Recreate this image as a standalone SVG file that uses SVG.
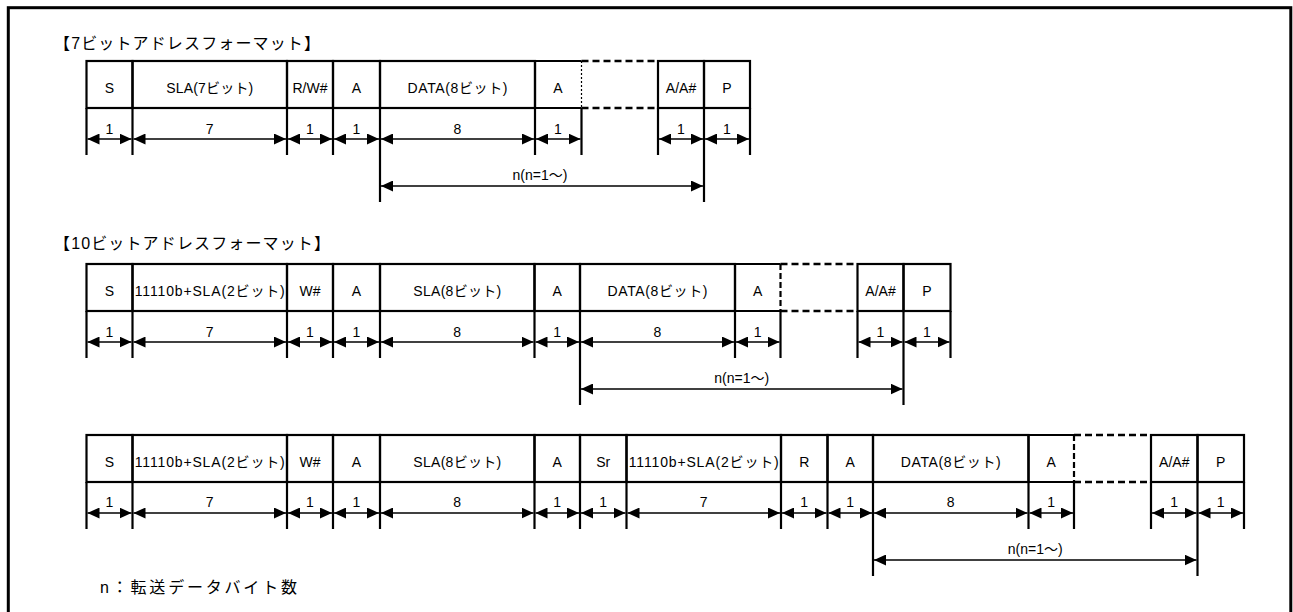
<svg xmlns="http://www.w3.org/2000/svg" width="1293" height="612" viewBox="0 0 1293 612">
<style>
.c{fill:none;stroke:#000;stroke-width:2.2}
.ds{fill:none;stroke:#000;stroke-width:2.5;stroke-dasharray:7 4}
.dl{fill:none;stroke:#000;stroke-width:1.2;stroke-dasharray:2 2}
.dl2{fill:none;stroke:#000;stroke-width:2.2;stroke-dasharray:6 3}
.tk{stroke:#000;stroke-width:2.2;fill:none}
.dim{stroke:#000;stroke-width:1.3;fill:none;marker-start:url(#ah);marker-end:url(#ah)}
text{font-family:"Liberation Sans","Noto Sans CJK JP",sans-serif;fill:#000}
.t{font-size:14px;text-anchor:middle}
.n{font-size:14px;text-anchor:middle}
.h{font-size:16px}
</style>
<defs>
<marker id="ah" viewBox="0 0 12 11" markerWidth="12" markerHeight="11" refX="12" refY="5.5" orient="auto-start-reverse" markerUnits="userSpaceOnUse"><path d="M0,0L12,5.5L0,11z" fill="#000"/></marker>
</defs>
<rect x="8.3" y="7.7" width="1282.5" height="640" fill="none" stroke="#000" stroke-width="3"/>
<text id="title1" class="h" x="54" y="49" textLength="266" lengthAdjust="spacing">【7ビットアドレスフォーマット】</text>
<text id="title2" class="h" x="54" y="249" textLength="276" lengthAdjust="spacing">【10ビットアドレスフォーマット】</text>
<text id="note" class="h" x="100" y="593" textLength="197" lengthAdjust="spacing">n：転送データバイト数</text>

<!-- Row 1 -->
<g id="r1-S"><rect class="c" x="86.5" y="61" width="46" height="47"/><text class="t" x="109.5" y="93">S</text></g>
<g id="r1-SLA"><rect class="c" x="132.5" y="61" width="154.5" height="47"/><text class="t" x="209.75" y="93" textLength="87" lengthAdjust="spacing">SLA(7ビット)</text></g>
<g id="r1-RW"><rect class="c" x="287" y="61" width="46" height="47"/><text class="t" x="310" y="93">R/W#</text></g>
<g id="r1-A1"><rect class="c" x="333" y="61" width="47" height="47"/><text class="t" x="356.5" y="93">A</text></g>
<g id="r1-DATA"><rect class="c" x="380" y="61" width="155" height="47"/><text class="t" x="457.5" y="93" textLength="100" lengthAdjust="spacing">DATA(8ビット)</text></g>
<g id="r1-A2"><path class="c" d="M581.5,61H535V108H581.5"/><text class="t" x="558" y="93">A</text></g>
<g id="r1-gap"><path class="ds" d="M581.5,61H658M581.5,108H658"/><path class="dl" d="M581.5,61V108"/></g>
<g id="r1-AA"><rect class="c" x="658" y="61" width="46" height="47"/><text class="t" x="681" y="93">A/A#</text></g>
<g id="r1-P"><rect class="c" x="704" y="61" width="46" height="47"/><text class="t" x="727" y="93">P</text></g>

<!-- Row 2 -->
<g id="r2-S"><rect class="c" x="86.5" y="264" width="46" height="47"/><text class="t" x="109.5" y="296">S</text></g>
<g id="r2-SLA2"><rect class="c" x="132.5" y="264" width="154.5" height="47"/><text class="t" x="209.75" y="296" textLength="150" lengthAdjust="spacing">11110b+SLA(2ビット)</text></g>
<g id="r2-W"><rect class="c" x="287" y="264" width="46" height="47"/><text class="t" x="310" y="296">W#</text></g>
<g id="r2-A1"><rect class="c" x="333" y="264" width="47" height="47"/><text class="t" x="356.5" y="296">A</text></g>
<g id="r2-SLA8"><rect class="c" x="380" y="264" width="154.5" height="47"/><text class="t" x="457.25" y="296" textLength="88" lengthAdjust="spacing">SLA(8ビット)</text></g>
<g id="r2-A2"><rect class="c" x="534.5" y="264" width="45.5" height="47"/><text class="t" x="557.25" y="296">A</text></g>
<g id="r2-DATA"><rect class="c" x="580" y="264" width="155" height="47"/><text class="t" x="657.5" y="296" textLength="100" lengthAdjust="spacing">DATA(8ビット)</text></g>
<g id="r2-A3"><path class="c" d="M780.5,264H735V311H780.5"/><text class="t" x="757.75" y="296">A</text></g>
<g id="r2-gap"><path class="ds" d="M780.5,264H857.5M780.5,311H857.5"/><path class="dl2" d="M780.5,264V311"/></g>
<g id="r2-AA"><rect class="c" x="857.5" y="264" width="46" height="47"/><text class="t" x="880.5" y="296">A/A#</text></g>
<g id="r2-P"><rect class="c" x="903.5" y="264" width="47" height="47"/><text class="t" x="927" y="296">P</text></g>

<!-- Row 3 -->
<g id="r3-S"><rect class="c" x="86.5" y="435" width="46" height="47"/><text class="t" x="109.5" y="467">S</text></g>
<g id="r3-SLA2"><rect class="c" x="132.5" y="435" width="154.5" height="47"/><text class="t" x="209.75" y="467" textLength="150" lengthAdjust="spacing">11110b+SLA(2ビット)</text></g>
<g id="r3-W"><rect class="c" x="287" y="435" width="46" height="47"/><text class="t" x="310" y="467">W#</text></g>
<g id="r3-A1"><rect class="c" x="333" y="435" width="47" height="47"/><text class="t" x="356.5" y="467">A</text></g>
<g id="r3-SLA8"><rect class="c" x="380" y="435" width="154.5" height="47"/><text class="t" x="457.25" y="467" textLength="88" lengthAdjust="spacing">SLA(8ビット)</text></g>
<g id="r3-A2"><rect class="c" x="534.5" y="435" width="45.5" height="47"/><text class="t" x="557.25" y="467">A</text></g>
<g id="r3-Sr"><rect class="c" x="580" y="435" width="46.5" height="47"/><text class="t" x="603.25" y="467">Sr</text></g>
<g id="r3-SLA2b"><rect class="c" x="626.5" y="435" width="154.5" height="47"/><text class="t" x="703.75" y="467" textLength="150" lengthAdjust="spacing">11110b+SLA(2ビット)</text></g>
<g id="r3-R"><rect class="c" x="781" y="435" width="46.5" height="47"/><text class="t" x="804.25" y="467">R</text></g>
<g id="r3-A3"><rect class="c" x="827.5" y="435" width="45.5" height="47"/><text class="t" x="850.25" y="467">A</text></g>
<g id="r3-DATA"><rect class="c" x="873" y="435" width="155.5" height="47"/><text class="t" x="950.75" y="467" textLength="100" lengthAdjust="spacing">DATA(8ビット)</text></g>
<g id="r3-A4"><path class="c" d="M1074,435H1028.5V482H1074"/><text class="t" x="1051.25" y="467">A</text></g>
<g id="r3-gap"><path class="ds" d="M1074,435H1151M1074,482H1151"/><path class="dl2" d="M1074,435V482"/></g>
<g id="r3-AA"><rect class="c" x="1151" y="435" width="46.5" height="47"/><text class="t" x="1174.25" y="467">A/A#</text></g>
<g id="r3-P"><rect class="c" x="1197.5" y="435" width="46.5" height="47"/><text class="t" x="1220.75" y="467">P</text></g>

<g id="connectors">
<!-- Row 1 ticks -->
<path class="tk" d="M86.5,108V155M132.5,108V155M287,108V155M333,108V155M380,108V202M535,108V155M581.5,108V155M658,108V155M704,108V202M750,108V155"/>
<line class="dim" x1="87.5" y1="139" x2="131.5" y2="139"/>
<line class="dim" x1="133.5" y1="139" x2="286" y2="139"/>
<line class="dim" x1="288" y1="139" x2="332" y2="139"/>
<line class="dim" x1="334" y1="139" x2="379" y2="139"/>
<line class="dim" x1="381" y1="139" x2="534" y2="139"/>
<line class="dim" x1="536" y1="139" x2="580.5" y2="139"/>
<line class="dim" x1="659" y1="139" x2="703" y2="139"/>
<line class="dim" x1="705" y1="139" x2="749" y2="139"/>
<line class="dim" x1="381" y1="186" x2="703" y2="186"/>
<text class="n" x="109.5" y="134">1</text>
<text class="n" x="209.75" y="134">7</text>
<text class="n" x="310" y="134">1</text>
<text class="n" x="356.5" y="134">1</text>
<text class="n" x="457.5" y="134">8</text>
<text class="n" x="558" y="134">1</text>
<text class="n" x="681" y="134">1</text>
<text class="n" x="727" y="134">1</text>
<text class="n" x="540" y="180">n(n=1～)</text>

<!-- Row 2 ticks -->
<path class="tk" d="M86.5,311V358M132.5,311V358M287,311V358M333,311V358M380,311V358M534.5,311V358M580,311V405M735,311V358M780.5,311V358M857.5,311V358M903.5,311V405M950.5,311V358"/>
<line class="dim" x1="87.5" y1="342" x2="131.5" y2="342"/>
<line class="dim" x1="133.5" y1="342" x2="286" y2="342"/>
<line class="dim" x1="288" y1="342" x2="332" y2="342"/>
<line class="dim" x1="334" y1="342" x2="379" y2="342"/>
<line class="dim" x1="381" y1="342" x2="533.5" y2="342"/>
<line class="dim" x1="535.5" y1="342" x2="579" y2="342"/>
<line class="dim" x1="581" y1="342" x2="734" y2="342"/>
<line class="dim" x1="736" y1="342" x2="779.5" y2="342"/>
<line class="dim" x1="858.5" y1="342" x2="902.5" y2="342"/>
<line class="dim" x1="904.5" y1="342" x2="949.5" y2="342"/>
<line class="dim" x1="581" y1="389" x2="902.5" y2="389"/>
<text class="n" x="109.5" y="337">1</text>
<text class="n" x="209.75" y="337">7</text>
<text class="n" x="310" y="337">1</text>
<text class="n" x="356.5" y="337">1</text>
<text class="n" x="457.25" y="337">8</text>
<text class="n" x="557.25" y="337">1</text>
<text class="n" x="657.5" y="337">8</text>
<text class="n" x="757.75" y="337">1</text>
<text class="n" x="880.5" y="337">1</text>
<text class="n" x="927" y="337">1</text>
<text class="n" x="741.75" y="383">n(n=1～)</text>

<!-- Row 3 ticks -->
<path class="tk" d="M86.5,482V529M132.5,482V529M287,482V529M333,482V529M380,482V529M534.5,482V529M580,482V529M626.5,482V529M781,482V529M827.5,482V529M873,482V576M1028.5,482V529M1074,482V529M1151,482V529M1197.5,482V576M1244,482V529"/>
<line class="dim" x1="87.5" y1="513" x2="131.5" y2="513"/>
<line class="dim" x1="133.5" y1="513" x2="286" y2="513"/>
<line class="dim" x1="288" y1="513" x2="332" y2="513"/>
<line class="dim" x1="334" y1="513" x2="379" y2="513"/>
<line class="dim" x1="381" y1="513" x2="533.5" y2="513"/>
<line class="dim" x1="535.5" y1="513" x2="579" y2="513"/>
<line class="dim" x1="581" y1="513" x2="625.5" y2="513"/>
<line class="dim" x1="627.5" y1="513" x2="780" y2="513"/>
<line class="dim" x1="782" y1="513" x2="826.5" y2="513"/>
<line class="dim" x1="828.5" y1="513" x2="872" y2="513"/>
<line class="dim" x1="874" y1="513" x2="1027.5" y2="513"/>
<line class="dim" x1="1029.5" y1="513" x2="1073" y2="513"/>
<line class="dim" x1="1152" y1="513" x2="1196.5" y2="513"/>
<line class="dim" x1="1198.5" y1="513" x2="1243" y2="513"/>
<line class="dim" x1="874" y1="560" x2="1196.5" y2="560"/>
<text class="n" x="109.5" y="507">1</text>
<text class="n" x="209.75" y="507">7</text>
<text class="n" x="310" y="507">1</text>
<text class="n" x="356.5" y="507">1</text>
<text class="n" x="457.25" y="507">8</text>
<text class="n" x="557.25" y="507">1</text>
<text class="n" x="603.25" y="507">1</text>
<text class="n" x="703.75" y="507">7</text>
<text class="n" x="804.25" y="507">1</text>
<text class="n" x="850.25" y="507">1</text>
<text class="n" x="950.75" y="507">8</text>
<text class="n" x="1051.25" y="507">1</text>
<text class="n" x="1174.25" y="507">1</text>
<text class="n" x="1220.75" y="507">1</text>
<text class="n" x="1035.25" y="554">n(n=1～)</text>
</g>
</svg>
